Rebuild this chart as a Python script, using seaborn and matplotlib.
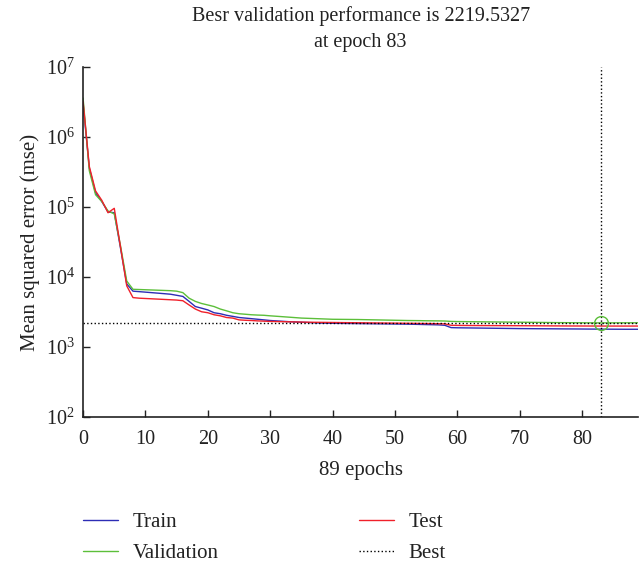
import numpy as np
import pandas as pd
import matplotlib
matplotlib.use("Agg")
import matplotlib.pyplot as plt
import seaborn as sns

# Performance values (epochs 0..89)
train = [3.0e6, 3.6e5, 1.6e5, 1.2e5, 8.5e4, 8.3e4, 2.6e4, 8.0e3, 6.3e3, 6.2e3,
         6.1e3, 6.0e3, 5.9e3, 5.8e3, 5.7e3, 5.5e3, 5.3e3, 4.5e3, 3.8e3, 3.6e3,
         3.4e3, 3.1e3, 3.0e3, 2.85e3, 2.75e3, 2.65e3, 2.6e3, 2.55e3, 2.5e3, 2.45e3,
         2.4e3, 2.37e3, 2.34e3, 2.31e3, 2.29e3, 2.27e3, 2.25e3, 2.23e3, 2.21e3, 2.2e3,
         2.19e3, 2.185e3, 2.18e3, 2.175e3, 2.17e3, 2.165e3, 2.16e3, 2.155e3, 2.15e3, 2.145e3,
         2.14e3, 2.135e3, 2.13e3, 2.12e3, 2.11e3, 2.1e3, 2.09e3, 2.08e3, 2.05e3, 1.9e3,
         1.89e3, 1.885e3, 1.88e3, 1.875e3, 1.87e3, 1.865e3, 1.86e3, 1.855e3, 1.85e3, 1.845e3,
         1.84e3, 1.838e3, 1.835e3, 1.832e3, 1.83e3, 1.828e3, 1.825e3, 1.822e3, 1.82e3, 1.818e3,
         1.815e3, 1.812e3, 1.81e3, 1.808e3, 1.806e3, 1.804e3, 1.802e3, 1.8e3, 1.8e3, 1.8e3]
validation = [3.6e6, 3.3e5, 1.5e5, 1.2e5, 8.8e4, 8.0e4, 2.8e4, 8.8e3, 6.7e3, 6.65e3,
              6.6e3, 6.55e3, 6.5e3, 6.45e3, 6.4e3, 6.3e3, 6.0e3, 5.0e3, 4.5e3, 4.2e3,
              4.0e3, 3.8e3, 3.5e3, 3.3e3, 3.1e3, 3.0e3, 2.95e3, 2.9e3, 2.87e3, 2.85e3,
              2.8e3, 2.76e3, 2.72e3, 2.68e3, 2.64e3, 2.6e3, 2.58e3, 2.56e3, 2.54e3, 2.52e3,
              2.5e3, 2.495e3, 2.49e3, 2.485e3, 2.48e3, 2.47e3, 2.46e3, 2.45e3, 2.44e3, 2.43e3,
              2.42e3, 2.41e3, 2.4e3, 2.395e3, 2.39e3, 2.38e3, 2.375e3, 2.37e3, 2.36e3, 2.33e3,
              2.32e3, 2.315e3, 2.31e3, 2.305e3, 2.3e3, 2.295e3, 2.29e3, 2.285e3, 2.28e3, 2.275e3,
              2.27e3, 2.265e3, 2.26e3, 2.255e3, 2.25e3, 2.245e3, 2.24e3, 2.237e3, 2.234e3, 2.23e3,
              2.227e3, 2.224e3, 2.222e3, 2219.5327, 2.222e3, 2.224e3, 2.225e3, 2.226e3, 2.227e3, 2.228e3]
test = [3.2e6, 3.8e5, 1.7e5, 1.25e5, 8.3e4, 9.6e4, 2.7e4, 7.5e3, 5.1e3, 5.0e3,
        4.95e3, 4.9e3, 4.85e3, 4.8e3, 4.75e3, 4.7e3, 4.6e3, 4.0e3, 3.5e3, 3.2e3,
        3.1e3, 2.9e3, 2.8e3, 2.65e3, 2.6e3, 2.45e3, 2.42e3, 2.4e3, 2.37e3, 2.35e3,
        2.33e3, 2.32e3, 2.31e3, 2.3e3, 2.29e3, 2.28e3, 2.27e3, 2.265e3, 2.26e3, 2.255e3,
        2.25e3, 2.245e3, 2.24e3, 2.235e3, 2.23e3, 2.225e3, 2.22e3, 2.215e3, 2.21e3, 2.205e3,
        2.2e3, 2.195e3, 2.19e3, 2.185e3, 2.18e3, 2.175e3, 2.17e3, 2.16e3, 2.15e3, 2.05e3,
        2.045e3, 2.04e3, 2.038e3, 2.036e3, 2.034e3, 2.032e3, 2.03e3, 2.028e3, 2.026e3, 2.024e3,
        2.022e3, 2.02e3, 2.018e3, 2.016e3, 2.014e3, 2.012e3, 2.01e3, 2.008e3, 2.006e3, 2.005e3,
        2.004e3, 2.003e3, 2.002e3, 2.001e3, 2.0e3, 2.0e3, 2.0e3, 2.0e3, 2.0e3, 2.0e3]
best_epoch = 83
best_perf = 2219.5327
n_epochs = 89

epochs = np.arange(len(train))
df = pd.DataFrame({"epoch": epochs, "Train": train, "Validation": validation, "Test": test})

sns.set_style("white")
plt.rcParams["font.family"] = ["Liberation Serif", "DejaVu Serif"]
plt.rcParams["mathtext.fontset"] = "custom"
plt.rcParams["mathtext.rm"] = "Liberation Serif"
plt.rcParams["mathtext.it"] = "Liberation Serif:italic"

txt = "#222222"
fig = plt.figure(figsize=(6.44, 5.63), dpi=100)
ax = fig.add_axes([0.129, 0.259, 0.862, 0.622])

sns.lineplot(data=df, x="epoch", y="Train", ax=ax, color="#2d2db5", lw=1, label="Train")
sns.lineplot(data=df, x="epoch", y="Validation", ax=ax, color="#5cbf3a", lw=1, label="Validation")
sns.lineplot(data=df, x="epoch", y="Test", ax=ax, color="#f0202a", lw=1, label="Test")
ax.axhline(best_perf, color="black", ls=":", lw=1, label="Best")
ax.axvline(best_epoch, color="black", ls=":", lw=1)
ax.plot([best_epoch], [best_perf], "o", mfc="none", mec="#5cbf3a", ms=10, mew=1)

ax.set_yscale("log")
ax.set_ylim(1e2, 1e7)
ax.set_xlim(0, n_epochs)
ax.set_xticks(range(0, 81, 10))
ax.set_yticks([1e2, 1e3, 1e4, 1e5, 1e6, 1e7])
ax.minorticks_off()
ax.tick_params(direction="in", length=5, width=1, labelsize=14.5, colors=txt,
               bottom=True, left=True)
ax.tick_params(axis="x", pad=9)
ax.tick_params(axis="y", pad=6)
for s in ["top", "right"]:
    ax.spines[s].set_visible(False)
for s in ["left", "bottom"]:
    ax.spines[s].set_color(txt)
    ax.spines[s].set_linewidth(1.2)

ax.set_xlabel("89 epochs", fontsize=15, color=txt, labelpad=9)
ax.set_ylabel("Mean squared error (mse)", fontsize=15, color=txt, labelpad=4)
ax.set_title("Besr validation performance is 2219.5327\nat epoch 83", fontsize=14.5,
             color=txt, pad=14.5, linespacing=1.47)

ax.get_legend().remove()
h, l = ax.get_legend_handles_labels()
order = [l.index(k) for k in ["Train", "Validation", "Test", "Best"]]
fig.legend([h[i] for i in order], [l[i] for i in order], ncol=2, frameon=False,
           loc="upper left", bbox_to_anchor=(83 / 644, 0.09), fontsize=15,
           borderaxespad=0, borderpad=0,
           handlelength=1.7, handletextpad=0.7, columnspacing=6.7, labelspacing=0.55,
           labelcolor=txt)

fig.savefig("out.png", dpi=100)
